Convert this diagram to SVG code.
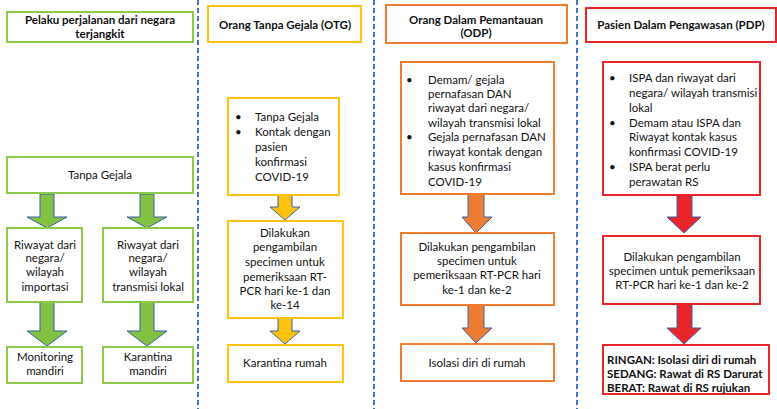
<svg xmlns="http://www.w3.org/2000/svg" width="777" height="409" viewBox="0 0 777 409">
<style>
text{font-family:Lato,"Liberation Sans",sans-serif;font-size:11.5px;fill:#111}
.c{text-anchor:middle}
.b{font-weight:bold}
.box{fill:#fff;stroke-width:2}
.g{stroke:#8CCB4A}
.y{stroke:#FFC20E}
.o{stroke:#EE7D32}
.r{stroke:#E8262A}
.div{stroke:#4472C4;stroke-width:2;stroke-dasharray:5 3;fill:none}
.ar{stroke:#3B5FA8;stroke-width:1}
.ag{fill:#82C141}
.ay{fill:#FFC20E}
.ao{fill:#EE7D32}
.arr{fill:#E8262A}
</style>
<rect width="777" height="409" fill="#fff"/>
<g id="dividers">
<line class="div" x1="198" y1="0" x2="198" y2="409"/>
<line class="div" x1="374" y1="0" x2="374" y2="409"/>
<line class="div" x1="577" y1="0" x2="577" y2="409"/>
</g>
<g id="connectors">
<polygon class="ar ag" points="40,194 54,194 54,217 67,217 47,228 27,217 40,217"/>
<polygon class="ar ag" points="140,194 154,194 154,217 167,217 147,228 127,217 140,217"/>
<polygon class="ar ag" points="40,302 54,302 54,331 67,331 47,346 27,331 40,331"/>
<polygon class="ar ag" points="140,302 154,302 154,331 167,331 147,346 127,331 140,331"/>
<polygon class="ar ay" points="278,195 292,195 292,207 300,207 285,220 270,207 278,207"/>
<polygon class="ar ay" points="278,318 292,318 292,331 300,331 285,344 270,331 278,331"/>
<polygon class="ar ao" points="468,194 484,194 484,217 492,217 476,233 462,217 468,217"/>
<polygon class="ar ao" points="468,305 484,305 484,328 492,328 476,343 462,328 468,328"/>
<polygon class="ar arr" points="677,195 692,195 692,217 701,217 684,233 667,217 677,217"/>
<polygon class="ar arr" points="677,304 692,304 692,328 701,328 684,344 667,328 677,328"/>
</g>
<g id="n-pelaku">
<rect class="box g" x="7" y="12" width="186" height="30"/>
<text class="c b" x="100" y="24">Pelaku perjalanan dari negara</text>
<text class="c b" x="100" y="38">terjangkit</text>
</g>
<g id="n-tanpa-gejala">
<rect class="box g" x="7" y="157" width="186" height="36"/>
<text class="c" x="100" y="179">Tanpa Gejala</text>
</g>
<g id="n-importasi">
<rect class="box g" x="7" y="228" width="75" height="74"/>
<text class="c" x="45" y="249">Riwayat dari</text>
<text class="c" x="45" y="262">negara/</text>
<text class="c" x="45" y="276">wilayah</text>
<text class="c" x="45" y="291">importasi</text>
</g>
<g id="n-lokal">
<rect class="box g" x="103" y="228" width="90" height="74"/>
<text class="c" x="148" y="249">Riwayat dari</text>
<text class="c" x="148" y="262">negara/</text>
<text class="c" x="148" y="276">wilayah</text>
<text class="c" x="148" y="291">transmisi lokal</text>
</g>
<g id="n-monitoring">
<rect class="box g" x="7" y="347" width="75" height="36"/>
<text class="c" x="45" y="361">Monitoring</text>
<text class="c" x="45" y="375">mandiri</text>
</g>
<g id="n-karantina-mandiri">
<rect class="box g" x="103" y="347" width="90" height="36"/>
<text class="c" x="148" y="361">Karantina</text>
<text class="c" x="148" y="375">mandiri</text>
</g>
<g id="n-otg">
<rect class="box y" x="208" y="6" width="153" height="36"/>
<text class="c b" x="285" y="29">Orang Tanpa Gejala (OTG)</text>
</g>
<g id="n-otg-kriteria">
<rect class="box y" x="228" y="98" width="111" height="97"/>
<text x="235" y="121">•</text>
<text x="255" y="121">Tanpa Gejala</text>
<text x="235" y="136">•</text>
<text x="255" y="136">Kontak dengan</text>
<text x="255" y="151">pasien</text>
<text x="255" y="166">konfirmasi</text>
<text x="255" y="181">COVID-19</text>
</g>
<g id="n-otg-spesimen">
<rect class="box y" x="228" y="221" width="115" height="97"/>
<text class="c" x="285" y="237">Dilakukan</text>
<text class="c" x="285" y="251">pengambilan</text>
<text class="c" x="285" y="266">specimen untuk</text>
<text class="c" x="285" y="281">pemeriksaan RT-</text>
<text class="c" x="285" y="295">PCR hari ke-1 dan</text>
<text class="c" x="285" y="309">ke-14</text>
</g>
<g id="n-karantina-rumah">
<rect class="box y" x="228" y="345" width="115" height="37"/>
<text class="c" x="285" y="367">Karantina rumah</text>
</g>
<g id="n-odp">
<rect class="box o" x="386" y="5" width="181" height="38"/>
<text class="c b" x="476" y="24">Orang Dalam Pemantauan</text>
<text class="c b" x="476" y="37">(ODP)</text>
</g>
<g id="n-odp-kriteria">
<rect class="box o" x="401" y="62" width="153" height="132"/>
<text x="406" y="84">•</text>
<text x="428" y="84">Demam/ gejala</text>
<text x="428" y="98">pernafasan DAN</text>
<text x="428" y="112">riwayat dari negara/</text>
<text x="428" y="127">wilayah transmisi lokal</text>
<text x="406" y="141">•</text>
<text x="428" y="141">Gejala pernafasan DAN</text>
<text x="428" y="156">riwayat kontak dengan</text>
<text x="428" y="171">kasus konfirmasi</text>
<text x="428" y="186">COVID-19</text>
</g>
<g id="n-odp-spesimen">
<rect class="box o" x="401" y="233" width="153" height="72"/>
<text class="c" x="477" y="251">Dilakukan pengambilan</text>
<text class="c" x="477" y="265">specimen untuk</text>
<text class="c" x="477" y="279">pemeriksaan RT-PCR hari</text>
<text class="c" x="477" y="294">ke-1 dan ke-2</text>
</g>
<g id="n-isolasi">
<rect class="box o" x="401" y="344" width="153" height="37"/>
<text class="c" x="477" y="367">Isolasi diri di rumah</text>
</g>
<g id="n-pdp">
<rect class="box r" x="586" y="8" width="190" height="34"/>
<text class="c b" x="681" y="29">Pasien Dalam Pengawasan (PDP)</text>
</g>
<g id="n-pdp-kriteria">
<rect class="box r" x="603" y="62" width="157" height="133"/>
<text x="609" y="82">•</text>
<text x="629" y="82">ISPA dan riwayat dari</text>
<text x="629" y="97">negara/ wilayah transmisi</text>
<text x="629" y="112">lokal</text>
<text x="609" y="127">•</text>
<text x="629" y="127">Demam atau ISPA dan</text>
<text x="629" y="141">Riwayat kontak kasus</text>
<text x="629" y="156">konfirmasi COVID-19</text>
<text x="609" y="171">•</text>
<text x="629" y="171">ISPA berat perlu</text>
<text x="629" y="186">perawatan RS</text>
</g>
<g id="n-pdp-spesimen">
<rect class="box r" x="603" y="236" width="157" height="68"/>
<text class="c" x="682" y="261">Dilakukan pengambilan</text>
<text class="c" x="682" y="275">specimen untuk pemeriksaan</text>
<text class="c" x="682" y="289">RT-PCR hari ke-1 dan ke-2</text>
</g>
<g id="n-pdp-tatalaksana">
<rect class="box r" x="603" y="345" width="166" height="49"/>
<text class="b" x="607" y="364">RINGAN: Isolasi diri di rumah</text>
<text class="b" x="607" y="378">SEDANG: Rawat di RS Darurat</text>
<text class="b" x="607" y="392">BERAT: Rawat di RS rujukan</text>
</g>
</svg>
